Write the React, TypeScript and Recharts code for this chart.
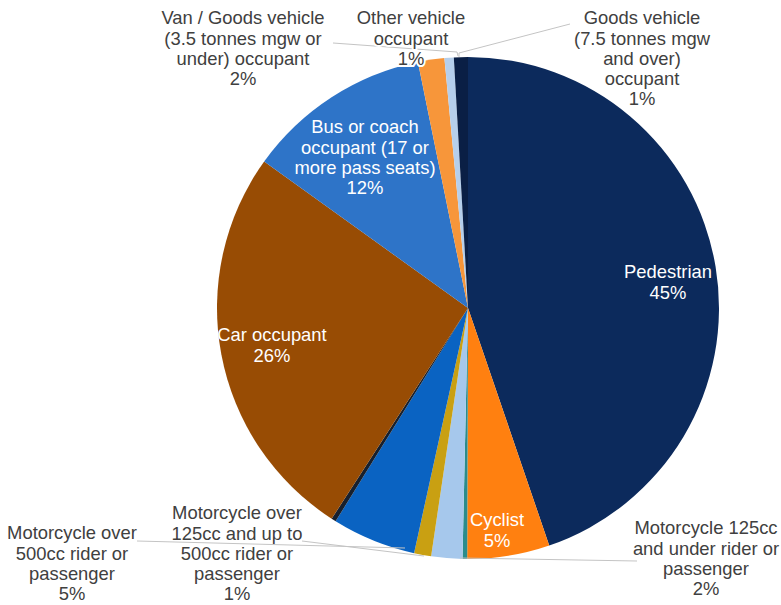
import React from 'react';
import { PieChart, Pie, Cell } from 'recharts';

const categories = [
  'Pedestrian',
  'Cyclist',
  'Other road user',
  'Motorcycle 125cc and under rider or passenger',
  'Motorcycle over 125cc and up to 500cc rider or passenger',
  'Motorcycle over 500cc rider or passenger',
  'Motorcycle unknown cc rider or passenger',
  'Car occupant',
  'Bus or coach occupant (17 or more pass seats)',
  'Van / Goods vehicle (3.5 tonnes mgw or under) occupant',
  'Other vehicle occupant',
  'Goods vehicle (7.5 tonnes mgw and over) occupant',
];

const shares = [44.8, 5.3, 0.3, 2.0, 1.1, 5.4, 0.3, 25.8, 11.9, 1.7, 0.6, 0.9];

// wrapped label text, empty = slice has no label
const labelLines: string[][] = [
  ['Pedestrian'],
  ['Cyclist'],
  [],
  ['Motorcycle 125cc', 'and under rider or', 'passenger'],
  ['Motorcycle over', '125cc and up to', '500cc rider or', 'passenger'],
  ['Motorcycle over', '500cc rider or', 'passenger'],
  [],
  ['Car occupant'],
  ['Bus or coach', 'occupant (17 or', 'more pass seats)'],
  ['Van / Goods vehicle', '(3.5 tonnes mgw or', 'under) occupant'],
  ['Other vehicle', 'occupant'],
  ['Goods vehicle', '(7.5 tonnes mgw', 'and over)', 'occupant'],
];

const colors = [
  '#0c2a5c', '#ff8010', '#2b8c8c', '#a6c8ec', '#c9a012', '#0a63c2',
  '#17202e', '#984c04', '#2e74c8', '#f7963a', '#b6cfeb', '#0a1f45',
];

const data = categories.map((name, i) => ({ name, value: shares[i] }));

const CX = 468;
const CY = 308;
const R = 251;
const LINE_H = 20.2;

// label placement, offsets from the pie centre
type Place = { dx: number; dy: number; inside: boolean; leader?: number[][] };
const places: Record<number, Place> = {
  0: { dx: 200, dy: -36, inside: true },
  1: { dx: 29, dy: 212, inside: true },
  3: { dx: 238, dy: 220, inside: false, leader: [[169, 253], [-8, 250]] },
  4: { dx: -231, dy: 205, inside: false, leader: [[-166, 233], [-44, 248]] },
  5: { dx: -396, dy: 225, inside: false, leader: [[-331, 233], [-63, 240]] },
  7: { dx: -196, dy: 27, inside: true },
  8: { dx: -103, dy: -181, inside: true },
  9: { dx: -225, dy: -290, inside: false, leader: [[-135, -265], [-11, -256], [-10, -252]] },
  10: { dx: -57, dy: -290, inside: false },
  11: { dx: 174, dy: -290, inside: false, leader: [[102, -284], [-9, -255], [-9, -251]] },
};

const renderLabel = (props: any) => {
  const { cx, cy, index, value } = props;
  const p = places[index];
  if (!p) return null;
  const lines = [...labelLines[index], `${Math.round(value)}%`];
  const x = cx + p.dx;
  return (
    <g>
      {p.leader && (
        <polyline
          points={p.leader.map(([a, b]) => `${cx + a},${cy + b}`).join(' ')}
          fill="none"
          stroke="#c4c4c4"
          strokeWidth={1}
        />
      )}
      <text
        x={x}
        y={cy + p.dy}
        textAnchor="middle"
        fill={p.inside ? '#ffffff' : '#404040'}
        stroke={p.inside ? 'none' : '#ffffff'}
        strokeWidth={p.inside ? 0 : 4}
        style={{ paintOrder: 'stroke' }}
        fontSize={18.4}
      >
        {lines.map((l, k) => (
          <tspan key={k} x={x} dy={k === 0 ? '0.35em' : LINE_H}>
            {l}
          </tspan>
        ))}
      </text>
    </g>
  );
};

const App = () => {
  return (
    <div
      style={{
        position: 'absolute',
        left: 0,
        top: 0,
        width: 781,
        height: 605,
        background: '#ffffff',
        fontFamily: '"Liberation Sans", Arial, sans-serif',
      }}
    >
      <PieChart width={781} height={605} margin={{ top: 0, right: 0, bottom: 0, left: 0 }}>
        <Pie
          data={data}
          dataKey="value"
          nameKey="name"
          cx={CX}
          cy={CY}
          outerRadius={R}
          startAngle={90}
          endAngle={-270}
          stroke="none"
          labelLine={false}
          label={renderLabel}
          isAnimationActive={false}
        >
          {data.map((entry, index) => (
            <Cell key={`cell-${index}`} fill={colors[index]} />
          ))}
        </Pie>
      </PieChart>
    </div>
  );
};

export default App;
